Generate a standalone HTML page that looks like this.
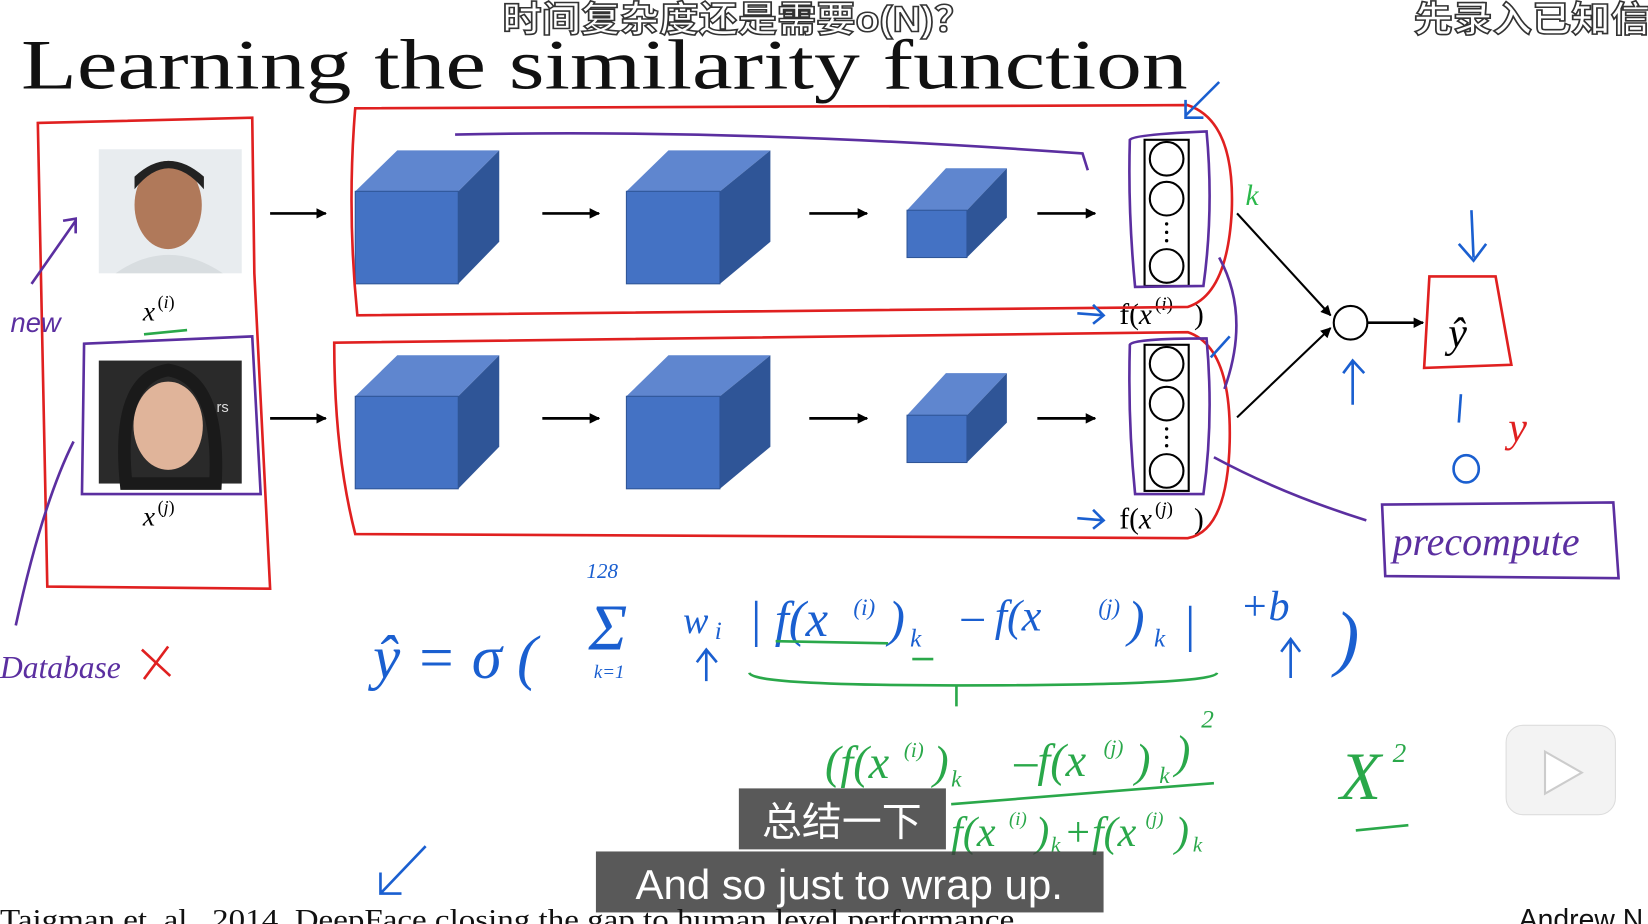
<!DOCTYPE html>
<html><head><meta charset="utf-8"><style>
html,body{margin:0;padding:0;background:#fff;overflow:hidden}
svg{display:block}
</style></head><body>
<svg width="1648" height="924" viewBox="0 0 1568 879" preserveAspectRatio="none" xmlns="http://www.w3.org/2000/svg">
<defs>
<marker id="ah" markerWidth="10" markerHeight="10" refX="9" refY="5" orient="auto" markerUnits="userSpaceOnUse"><path d="M0,0 L10,5 L0,10 z" fill="#000"/></marker>
<g id="cube1"><polygon points="338,182 378,143 475,143 436,182" fill="#5f86cf"/><polygon points="436,182 475,143 475,230 436,270" fill="#2f5597"/><rect x="338" y="182" width="98" height="88" fill="#4472c4" stroke="#2f5597"/></g>
<g id="cube2"><polygon points="596,182 636,143 733,143 685,182" fill="#5f86cf"/><polygon points="685,182 733,143 733,230 685,270" fill="#2f5597"/><rect x="596" y="182" width="89" height="88" fill="#4472c4" stroke="#2f5597"/></g>
<g id="cube3"><polygon points="863,200 900,160 958,160 920,200" fill="#5f86cf"/><polygon points="920,200 958,160 958,207 920,245" fill="#2f5597"/><rect x="863" y="200" width="57" height="45" fill="#4472c4" stroke="#2f5597"/></g>
<g id="vec"><rect x="1089" y="133" width="42" height="139" fill="none" stroke="#000" stroke-width="2"/><circle cx="1110" cy="151" r="16" fill="#fff" stroke="#000" stroke-width="2"/><circle cx="1110" cy="189" r="16" fill="#fff" stroke="#000" stroke-width="2"/><circle cx="1110" cy="253" r="16" fill="#fff" stroke="#000" stroke-width="2"/><circle cx="1110" cy="213" r="1.6"/><circle cx="1110" cy="221" r="1.6"/><circle cx="1110" cy="229" r="1.6"/></g>
<g id="arrows"><line x1="257" y1="203" x2="310" y2="203" stroke="#000" stroke-width="2.5" marker-end="url(#ah)"/><line x1="516" y1="203" x2="570" y2="203" stroke="#000" stroke-width="2.5" marker-end="url(#ah)"/><line x1="770" y1="203" x2="825" y2="203" stroke="#000" stroke-width="2.5" marker-end="url(#ah)"/><line x1="987" y1="203" x2="1042" y2="203" stroke="#000" stroke-width="2.5" marker-end="url(#ah)"/></g>
</defs>

<text x="20" y="84" font-family="Liberation Serif, serif" font-size="68" fill="#111" textLength="1110" lengthAdjust="spacingAndGlyphs">Learning the similarity function</text>
<text x="478" y="30" font-family="Liberation Sans, Noto Sans CJK SC, sans-serif" font-size="34" font-weight="bold" fill="#fff" stroke="#333" stroke-width="1.5" textLength="448" lengthAdjust="spacingAndGlyphs">时间复杂度还是需要o(N)？</text>
<text x="1345" y="30" font-family="Liberation Sans, Noto Sans CJK SC, sans-serif" font-size="34" font-weight="bold" fill="#fff" stroke="#333" stroke-width="1.5" textLength="225" lengthAdjust="spacingAndGlyphs">先录入已知信</text>

<!-- photos -->
<rect x="94" y="142" width="136" height="118" fill="#e8ecef"/>
<ellipse cx="160" cy="195" rx="32" ry="42" fill="#b0795a"/>
<path d="M128,180 Q160,140 194,180 L194,168 Q160,138 128,168z" fill="#222"/>
<path d="M110,260 Q160,225 212,260z" fill="#d8dde0"/>
<rect x="94" y="343" width="136" height="117" fill="#2a2a2a"/>
<ellipse cx="160" cy="405" rx="33" ry="42" fill="#e0b49a"/>
<path d="M120,460 Q110,360 160,352 Q210,360 205,460z" fill="none" stroke="#1a1a1a" stroke-width="12"/>
<text x="206" y="392" font-family="Liberation Sans,sans-serif" font-size="14" fill="#ddd">rs</text>
<text x="136" y="305" font-family="Liberation Serif,serif" font-style="italic" font-size="26">x</text><text x="150" y="293" font-family="Liberation Serif,serif" font-size="17">(<tspan font-style="italic">i</tspan>)</text>
<text x="136" y="500" font-family="Liberation Serif,serif" font-style="italic" font-size="26">x</text><text x="150" y="488" font-family="Liberation Serif,serif" font-size="17">(<tspan font-style="italic">j</tspan>)</text>

<use href="#cube1"/><use href="#cube2"/><use href="#cube3"/><use href="#vec"/><use href="#arrows"/>
<g transform="translate(0,195)"><use href="#cube1"/><use href="#cube2"/><use href="#cube3"/><use href="#vec"/><use href="#arrows"/></g>

<text x="1065" y="308" font-family="Liberation Serif,serif" font-size="28">f(<tspan font-style="italic">x</tspan></text><text x="1099" y="295" font-family="Liberation Serif,serif" font-size="18">(<tspan font-style="italic">i</tspan>)</text><text x="1136" y="308" font-family="Liberation Serif,serif" font-size="28">)</text>
<text x="1065" y="503" font-family="Liberation Serif,serif" font-size="28">f(<tspan font-style="italic">x</tspan></text><text x="1099" y="490" font-family="Liberation Serif,serif" font-size="18">(<tspan font-style="italic">j</tspan>)</text><text x="1136" y="503" font-family="Liberation Serif,serif" font-size="28">)</text>

<line x1="1177" y1="203" x2="1266" y2="300" stroke="#000" stroke-width="2" marker-end="url(#ah)"/>
<line x1="1177" y1="397" x2="1266" y2="312" stroke="#000" stroke-width="2" marker-end="url(#ah)"/>
<circle cx="1285" cy="307" r="16" fill="#fff" stroke="#000" stroke-width="2"/>
<line x1="1301" y1="307" x2="1354" y2="307" stroke="#000" stroke-width="2.5" marker-end="url(#ah)"/>
<text x="1378" y="330" font-family="Liberation Serif,serif" font-style="italic" font-size="40">ŷ</text>

<!-- red hand boxes -->
<g fill="none" stroke="#e02020" stroke-width="2.5">
<path d="M36,117 L240,112 L242,260 L257,560 L45,558 Z"/>
<path d="M338,103 L1130,100 Q1175,115 1172,200 Q1168,280 1130,292 L340,300 Q330,200 338,103Z"/>
<path d="M318,326 L1130,316 Q1172,330 1170,420 Q1168,505 1130,512 L338,508 Q318,430 318,326Z"/>
<path d="M1360,263 L1423,263 L1438,347 L1355,350 Z"/>
<path d="M135,618 L162,643 M160,615 L137,646"/>
</g>
<!-- purple strokes -->
<g fill="none" stroke="#5b2fa0" stroke-width="2.5">
<path d="M80,327 L240,320 L248,470 L78,470 Z"/>
<path d="M1075,133 Q1078,128 1148,125 Q1155,200 1145,272 L1080,273 Q1073,200 1075,133Z"/>
<path d="M1075,328 Q1078,322 1148,322 Q1155,400 1145,470 L1080,470 Q1073,400 1075,328Z"/>
<path d="M433,128 Q700,122 1030,146 L1035,162"/>
<path d="M1160,245 Q1190,300 1165,370"/>
<path d="M1155,435 Q1220,470 1300,495"/>
<path d="M1315,480 L1535,478 L1540,550 L1318,548 Z"/>
<path d="M30,270 L72,210 M60,210 L72,208 L72,222"/>
<path d="M15,595 Q40,480 70,420"/>
</g>
<text x="10" y="316" font-family="Liberation Sans,sans-serif" font-style="italic" font-size="26" fill="#5b2fa0">new</text>
<text x="0" y="645" font-family="Liberation Serif,serif" font-style="italic" font-size="30" fill="#5b2fa0">Database</text>
<text x="1325" y="528" font-family="Liberation Serif,serif" font-style="italic" font-size="38" fill="#5b2fa0">precompute</text>

<!-- blue handwriting -->
<g fill="none" stroke="#1a5fd0" stroke-width="2.5">
<path d="M1160,78 L1128,110 M1128,95 L1128,112 L1145,112"/>
<path d="M1400,200 L1402,245 M1388,232 L1402,248 L1414,232"/>
<path d="M1287,385 L1287,345 M1278,355 L1287,343 L1298,355"/>
<path d="M1390,375 L1388,402"/>
<path d="M405,805 L362,850 M362,830 L362,850 L382,850"/>
<path d="M672,648 L672,620 M663,630 L672,618 L682,630"/>
<path d="M1228,645 L1228,610 M1219,620 L1228,608 L1237,620"/>
<path d="M1025,298 L1050,300 M1040,290 L1050,300 L1040,308"/>
<path d="M1025,493 L1050,495 M1040,485 L1050,495 L1040,503"/>
<path d="M1170,320 L1152,340"/>
</g>
<ellipse cx="1395" cy="446" rx="12" ry="13" fill="none" stroke="#1a5fd0" stroke-width="2.5"/>
<g font-family="Liberation Serif,serif" font-style="italic" fill="#1a5fd0">
<text x="355" y="645" font-size="58">ŷ = σ (</text>
<text x="558" y="550" font-size="20">128</text>
<text x="560" y="618" font-size="62">Σ</text>
<text x="565" y="645" font-size="18">k=1</text>
<text x="650" y="602" font-size="36">w</text><text x="680" y="608" font-size="24">i</text>
<text x="712" y="605" font-size="48">| f(x</text><text x="812" y="585" font-size="22">(i)</text><text x="845" y="605" font-size="48">)</text><text x="866" y="615" font-size="24">k</text>
<text x="915" y="600" font-size="42">–  f(x</text><text x="1045" y="585" font-size="22">(j)</text><text x="1073" y="605" font-size="48">)</text><text x="1098" y="615" font-size="24">k</text><text x="1125" y="610" font-size="48">|</text>
<text x="1180" y="590" font-size="40">+b</text>
<text x="1270" y="630" font-size="70">)</text>
<text x="1185" y="195" font-size="28" fill="#2ab84a">k</text>
<text x="1435" y="420" font-size="40" fill="#e02020">y</text>
</g>
<!-- green -->
<g fill="none" stroke="#2aa84a" stroke-width="2.5">
<path d="M713,640 Q715,652 910,652 Q1155,652 1158,640 M910,652 L910,672"/>
<path d="M738,610 L845,612 M868,627 L888,627 M137,318 L178,314"/>
<path d="M905,765 L1155,745"/>
<path d="M1290,790 L1340,785"/>
</g>
<g font-family="Liberation Serif,serif" font-style="italic" fill="#2aa84a">
<text x="785" y="740" font-size="44">(f(x</text><text x="860" y="720" font-size="20">(i)</text><text x="888" y="740" font-size="44">)</text><text x="905" y="748" font-size="22">k</text>
<text x="965" y="738" font-size="44">–f(x</text><text x="1050" y="718" font-size="20">(j)</text><text x="1080" y="738" font-size="44">)</text><text x="1103" y="745" font-size="22">k</text><text x="1118" y="730" font-size="44">)</text><text x="1143" y="692" font-size="24">2</text>
<text x="905" y="805" font-size="40">f(x</text><text x="960" y="785" font-size="18">(i)</text><text x="985" y="805" font-size="40">)</text><text x="1000" y="810" font-size="20">k</text><text x="1012" y="805" font-size="40">+f(x</text><text x="1090" y="785" font-size="18">(j)</text><text x="1118" y="805" font-size="40">)</text><text x="1135" y="810" font-size="20">k</text>
<text x="1275" y="760" font-size="64">X</text><text x="1325" y="725" font-size="26">2</text>
</g>

<!-- play button -->
<rect x="1433" y="690" width="104" height="85" rx="16" fill="#f3f3f3" stroke="#ddd"/>
<path d="M1470,715 L1505,735 L1470,755 Z" fill="#fff" stroke="#ccc" stroke-width="2"/>

<!-- subtitles -->
<rect x="703" y="750" width="197" height="58" fill="rgba(60,60,60,0.85)"/>
<text x="801" y="795" text-anchor="middle" font-family="Liberation Sans,Noto Sans CJK SC,sans-serif" font-size="38" fill="#fff">总结一下</text>
<rect x="567" y="810" width="483" height="58" fill="rgba(60,60,60,0.85)"/>
<text x="808" y="855" text-anchor="middle" font-family="Liberation Sans,sans-serif" font-size="40" fill="#fff">And so just to wrap up.</text>

<text x="0" y="884" font-family="Liberation Serif,serif" font-size="27" fill="#111" textLength="965" lengthAdjust="spacingAndGlyphs">Taigman et. al., 2014. DeepFace closing the gap to human level performance</text>
<text x="1445" y="884" font-family="Liberation Sans,sans-serif" font-size="27" fill="#111">Andrew N</text>
</svg>
</body></html>
